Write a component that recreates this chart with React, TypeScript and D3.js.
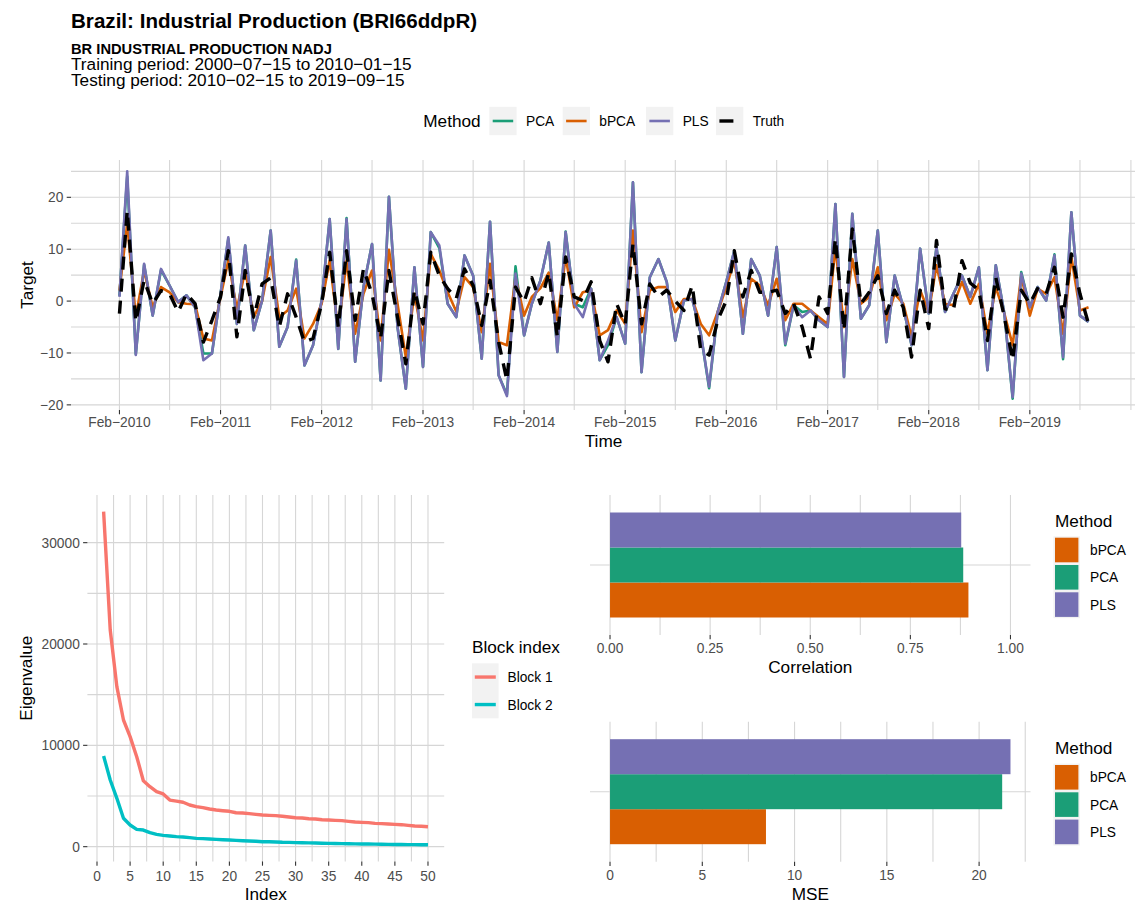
import React from "react";
import * as d3 from "d3";

const FONT = "'Liberation Sans', Arial, Helvetica, sans-serif";
const GRID = "#D6D6D6";
const AXIS_TXT = "#4D4D4D";
const TICK = "#333333";
const KEY_BG = "#F2F2F2";

// Monthly out-of-sample predictions, Feb 2010 .. Sep 2019
const pca = [
  1.0, 24.0, -10.2, 7.0, -2.8, 6.0, 3.0, -0.2, 1.1, -1.2,
  -10.1, -10.1, 1.4, 12.0, -4.4, 10.7, -5.6, 0.1, 13.6, -8.8,
  -5.0, 8.0, -12.4, -8.5, 0.1, 15.8, -9.2, 16.0, -11.7, 2.7,
  11.0, -15.3, 20.1, -5.0, -16.9, 6.5, -12.7, 13.3, 10.2, -0.5,
  -3.1, 8.8, 4.9, -11.1, 15.3, -14.3, -18.0, 6.7, -6.6, -0.5,
  4.0, 11.3, -9.8, 13.4, -0.5, -1.2, 2.4, -11.4, -8.5, -3.1,
  -8.2, 22.9, -13.7, 4.6, 8.1, 3.7, -7.6, 0.1, 0.4, -6.3,
  -16.8, -2.1, 3.7, 9.7, -6.3, 8.1, 4.9, -2.8, 10.4, -8.5,
  -0.8, -2.1, -1.8, -3.7, -5.0, 18.7, -14.6, 16.8, -3.4, -0.8,
  13.6, -7.9, 4.9, -1.2, -8.5, 10.1, -2.4, 10.4, -2.1, 1.4,
  4.9, 0.8, 6.5, -13.3, 6.9, -2.4, -18.8, 5.6, -1.2, 2.7,
  0.1, 9.0, -11.2, 17.1, -2.8, -4.0,
];
const bpca = [
  2.0, 14.9, -3.0, 5.9, -1.2, 2.7, 1.7, -0.2, -0.5, -0.6,
  -7.2, -7.6, 0.8, 7.8, -1.5, 5.9, -3.0, 0.0, 8.5, -3.1,
  -1.8, 2.4, -7.2, -4.4, -0.5, 7.8, -5.6, 7.8, -6.3, 1.4,
  5.9, -7.6, 9.9, -0.5, -10.8, 1.4, -7.6, 9.1, 5.9, 1.7,
  -2.0, 4.6, 2.7, -6.0, 7.2, -7.9, -8.5, 4.6, -2.8, 0.8,
  2.5, 5.5, -3.7, 8.5, -1.2, 1.7, 2.1, -6.6, -5.6, -1.8,
  -4.4, 13.6, -6.0, 2.1, 2.7, 2.7, -2.1, 0.4, 0.4, -4.4,
  -6.6, -2.1, 2.7, 7.8, -3.1, 4.3, 3.0, -0.8, 4.3, -3.7,
  -0.5, -0.5, -1.8, -3.1, -4.4, 10.4, -5.0, 8.1, -0.5, 0.8,
  6.5, -3.7, 1.4, -0.5, -6.9, 2.1, -2.1, 6.9, -0.5, -0.8,
  3.7, -0.5, 3.3, -6.3, 2.7, -2.4, -8.5, 4.9, -2.8, 2.4,
  1.4, 4.6, -6.3, 8.5, -1.8, -1.2,
];
const pls = [
  0.8, 25.0, -10.4, 7.2, -2.8, 6.2, 3.0, -0.2, 1.1, -1.2,
  -11.4, -10.1, 1.4, 12.3, -4.4, 10.7, -5.6, 0.1, 13.6, -8.8,
  -5.0, 7.8, -12.4, -8.5, 0.1, 15.8, -9.2, 15.8, -11.7, 2.7,
  11.0, -15.3, 20.1, -5.0, -16.9, 6.5, -12.7, 13.3, 10.7, -0.5,
  -3.1, 8.8, 4.9, -11.1, 15.3, -14.3, -18.3, 5.3, -6.6, -0.5,
  4.0, 11.3, -9.8, 13.3, -0.5, -3.1, 2.4, -11.4, -7.6, -3.1,
  -8.2, 22.9, -13.7, 4.6, 8.1, 3.7, -7.6, 0.1, 0.4, -6.3,
  -16.5, -2.1, 3.7, 9.7, -6.3, 8.1, 4.9, -2.8, 10.4, -8.2,
  -0.8, -3.1, -1.8, -3.7, -5.0, 18.7, -14.6, 16.8, -3.4, -0.8,
  13.6, -7.9, 4.9, -1.2, -8.5, 10.1, -2.4, 10.4, -2.1, 1.4,
  4.9, 0.8, 6.5, -13.3, 6.9, -2.4, -18.5, 5.3, -1.2, 2.7,
  0.1, 8.8, -10.8, 17.1, -2.8, -4.0,
];
const truth = [
  -2.4, 17.4, -4.0, 4.0, -0.5, 2.0, 1.4, -2.1, 1.4, -0.5,
  -7.9, -3.7, 0.8, 9.7, -6.9, 5.9, -3.1, 3.3, 4.5, -5.0,
  1.4, -3.1, -7.9, -7.2, -0.5, 9.4, -5.0, 9.7, -3.7, 6.2,
  1.4, -7.2, 5.9, -3.1, -12.1, 2.1, -4.4, 9.4, 4.9, 2.4,
  0.5, 6.2, 3.0, -4.7, 4.0, -7.9, -15.3, 2.7, -0.2, 4.5,
  -0.5, 5.5, -6.9, 8.5, 0.8, 0.1, 3.7, -7.6, -11.7, -0.5,
  -4.5, 11.0, -4.4, 3.3, 0.8, 2.1, 0.0, -1.8, 3.0, -9.5,
  -10.4, -3.7, 0.1, 9.7, 0.8, 5.9, 1.7, 1.7, 2.1, -2.4,
  -0.5, -5.0, -11.1, 0.8, -2.4, 12.0, -5.6, 13.9, -0.5, 1.7,
  4.9, -2.4, 2.1, -1.2, -10.8, 2.1, -5.3, 11.7, -1.5, -1.8,
  7.8, 3.5, 2.1, -7.6, 4.6, -3.1, -11.4, 2.1, -0.5, 2.4,
  1.4, 6.5, -3.1, 9.1, 1.4, -4.4,
];

// Eigenvalues of the two predictor blocks, components 1..50
const block1 = [
  33060, 21380, 15790, 12500, 10860, 8880, 6510, 5920, 5430, 5200,
  4600, 4500, 4380, 4110, 3950, 3850, 3720, 3620, 3550, 3490,
  3350, 3320, 3260, 3190, 3130, 3090, 3060, 3000, 2930, 2860,
  2830, 2760, 2730, 2660, 2630, 2600, 2570, 2500, 2430, 2400,
  2370, 2300, 2270, 2240, 2200, 2170, 2100, 2040, 2010, 1970,
];
const block2 = [
  8950, 6580, 4770, 2800, 2140, 1710, 1640, 1380, 1220, 1120,
  1050, 990, 950, 890, 820, 790, 760, 720, 690, 660,
  620, 590, 560, 530, 490, 480, 460, 430, 420, 400,
  390, 370, 360, 340, 330, 310, 300, 290, 280, 270,
  260, 250, 240, 230, 220, 210, 205, 200, 195, 190,
];

// Summary metrics per method
const metricMethods = ["bPCA", "PCA", "PLS"];
const correlation = [0.895, 0.882, 0.877];
const mse = [8.45, 21.25, 21.7];

const methodColor: Record<string, string> = {
  PCA: "#1B9E77",
  bPCA: "#D95F02",
  PLS: "#7570B3",
};
const blockColor = ["#F8766D", "#00BFC4"];

const monthDates = pls.map((_, i) => new Date(2010, 1 + i, 15));
const fmtMonth = d3.timeFormat("%b-%Y");
const minus = (s: string) => s.replace(/-/g, "\u2212");

function expand(lo: number, hi: number, f = 0.05): [number, number] {
  const r = hi - lo;
  return [lo - r * f, hi + r * f];
}

function TopChart() {
  const L = 71, R = 1137, T = 160, B = 410;
  const t0 = +monthDates[0];
  const t1 = +monthDates[monthDates.length - 1];
  const pad = (t1 - t0) * 0.05;
  const x = d3.scaleTime().domain([new Date(t0 - pad), new Date(t1 + pad)]).range([L, R]);
  const all = [...pca, ...bpca, ...pls, ...truth];
  const [ylo, yhi] = expand(d3.min(all)!, d3.max(all)!);
  const y = d3.scaleLinear().domain([ylo, yhi]).range([B, T]);

  const gridV = d3.range(0, 21)
    .map((k) => new Date(2010, 1 + 6 * k, 15))
    .filter((d) => d >= x.domain()[0] && d <= x.domain()[1]);
  const majorX = d3.range(0, 10).map((k) => new Date(2010 + k, 1, 15));
  const gridH = d3.range(-20, 26, 5).filter((v) => v >= ylo && v <= yhi);
  const majorY = [-20, -10, 0, 10, 20];

  const line = d3.line<number>()
    .x((_, i) => x(monthDates[i]))
    .y((v) => y(v));

  const series = [
    { name: "PCA", values: pca },
    { name: "bPCA", values: bpca },
    { name: "PLS", values: pls },
  ];

  return (
    <g>
      {gridH.map((v) => (
        <line key={"h" + v} x1={L} x2={R} y1={y(v)} y2={y(v)} stroke={GRID} strokeWidth={1.1} />
      ))}
      {gridV.map((d) => (
        <line key={"v" + +d} x1={x(d)} x2={x(d)} y1={T} y2={B} stroke={GRID} strokeWidth={1.1} />
      ))}
      {series.map((s) => (
        <path key={s.name} d={line(s.values)!} fill="none" stroke={methodColor[s.name]}
          strokeWidth={2.6} strokeLinejoin="round" />
      ))}
      <path d={line(truth)!} fill="none" stroke="#000" strokeWidth={3.4}
        strokeDasharray="13 9" strokeLinejoin="round" />
      {majorY.map((v) => (
        <g key={"yt" + v}>
          <line x1={L - 4.3} x2={L} y1={y(v)} y2={y(v)} stroke={TICK} strokeWidth={1.1} />
          <text x={L - 7.6} y={y(v)} dy="0.36em" textAnchor="end" fontSize={13.76} fill={AXIS_TXT}>
            {minus(String(v))}
          </text>
        </g>
      ))}
      {majorX.map((d) => (
        <g key={"xt" + +d}>
          <line x1={x(d)} x2={x(d)} y1={B} y2={B + 4.3} stroke={TICK} strokeWidth={1.1} />
          <text x={x(d)} y={427} textAnchor="middle" fontSize={13.76} fill={AXIS_TXT}>
            {minus(fmtMonth(d))}
          </text>
        </g>
      ))}
      <text x={603.5} y={446.5} textAnchor="middle" fontSize={17.2} fill="#000">Time</text>
      <text transform={`translate(33.3,${(T + B) / 2}) rotate(-90)`} textAnchor="middle"
        fontSize={17.2} fill="#000">Target</text>
    </g>
  );
}

function TopLegend() {
  const cy = 121;
  const keys = [
    { name: "PCA", kx: 489.3, lx: 526 },
    { name: "bPCA", kx: 562.7, lx: 599.3 },
    { name: "PLS", kx: 646, lx: 682.7 },
    { name: "Truth", kx: 716, lx: 752.7 },
  ];
  return (
    <g>
      <text x={423.3} y={cy} dy="0.36em" fontSize={17.2} fill="#000">Method</text>
      {keys.map((k) => (
        <g key={k.name}>
          <rect x={k.kx} y={cy - 14.2} width={27.3} height={28.4} fill={KEY_BG} />
          {k.name === "Truth" ? (
            <line x1={k.kx + 3.4} x2={k.kx + 17.4} y1={cy} y2={cy} stroke="#000" strokeWidth={3.4} />
          ) : (
            <line x1={k.kx + 3.4} x2={k.kx + 23.9} y1={cy} y2={cy} stroke={methodColor[k.name]} strokeWidth={2.6} />
          )}
          <text x={k.lx} y={cy} dy="0.36em" fontSize={13.76} fill="#000">{k.name}</text>
        </g>
      ))}
    </g>
  );
}

function EigenChart() {
  const L = 87.4, R = 444.2, T = 495, B = 861.4;
  const idx = block1.map((_, i) => i + 1);
  const [xlo, xhi] = expand(1, idx.length);
  const x = d3.scaleLinear().domain([xlo, xhi]).range([L, R]);
  const all = [...block1, ...block2];
  const [ylo, yhi] = expand(d3.min(all)!, d3.max(all)!);
  const y = d3.scaleLinear().domain([ylo, yhi]).range([B, T]);

  const gridV = d3.range(0, 55, 2.5).filter((v) => v >= xlo && v <= xhi);
  const gridH = d3.range(0, 40000, 5000).filter((v) => v >= ylo && v <= yhi);
  const majorX = d3.range(0, 51, 5);
  const majorY = [0, 10000, 20000, 30000];
  const line = d3.line<number>().x((_, i) => x(idx[i])).y((v) => y(v));
  const blocks = [block1, block2];
  const LX = 472;

  return (
    <g>
      {gridH.map((v) => (
        <line key={"h" + v} x1={L} x2={R} y1={y(v)} y2={y(v)} stroke={GRID} strokeWidth={1.1} />
      ))}
      {gridV.map((v) => (
        <line key={"v" + v} x1={x(v)} x2={x(v)} y1={T} y2={B} stroke={GRID} strokeWidth={1.1} />
      ))}
      {blocks.map((b, i) => (
        <path key={i} d={line(b)!} fill="none" stroke={blockColor[i]} strokeWidth={3.4} strokeLinejoin="round" />
      ))}
      {majorY.map((v) => (
        <g key={"yt" + v}>
          <line x1={L - 4.3} x2={L} y1={y(v)} y2={y(v)} stroke={TICK} strokeWidth={1.1} />
          <text x={L - 7.6} y={y(v)} dy="0.36em" textAnchor="end" fontSize={13.76} fill={AXIS_TXT}>{v}</text>
        </g>
      ))}
      {majorX.map((v) => (
        <g key={"xt" + v}>
          <line x1={x(v)} x2={x(v)} y1={B} y2={B + 4.3} stroke={TICK} strokeWidth={1.1} />
          <text x={x(v)} y={880.7} textAnchor="middle" fontSize={13.76} fill={AXIS_TXT}>{v}</text>
        </g>
      ))}
      <text x={(L + R) / 2} y={900} textAnchor="middle" fontSize={17.2} fill="#000">Index</text>
      <text transform={`translate(31.7,${(T + B) / 2}) rotate(-90)`} textAnchor="middle"
        fontSize={17.2} fill="#000">Eigenvalue</text>

      <text x={LX} y={653.3} fontSize={17.2} fill="#000">Block index</text>
      <rect x={LX} y={663.3} width={26.6} height={55} fill={KEY_BG} />
      {["Block 1", "Block 2"].map((name, i) => {
        const cy = 677.05 + i * 27.5;
        return (
          <g key={name}>
            <line x1={LX + 2.8} x2={LX + 23.8} y1={cy} y2={cy} stroke={blockColor[i]} strokeWidth={3.4} />
            <text x={LX + 35.5} y={cy} dy="0.36em" fontSize={13.76} fill="#000">{name}</text>
          </g>
        );
      })}
    </g>
  );
}

function BarChart(props: {
  values: number[];
  top: number;
  title: string;
  ticks: number[];
  fmt: (v: number) => string;
  grid: number[];
  fixedMax?: number;
  labelY: number;
  titleY: number;
  legendTitleY: number;
}) {
  const { values, top, title, ticks, fmt, grid, fixedMax, labelY, titleY, legendTitleY } = props;
  const L = 590, R = 1030.5;
  const T = top, B = top + 140;
  const hi = fixedMax ?? d3.max(values)!;
  const [xlo, xhi] = expand(0, hi);
  const x = d3.scaleLinear().domain([xlo, xhi]).range([L, R]);
  // one category, dodged bars; first level sits at the bottom
  const yCat = d3.scaleLinear().domain([0.4, 1.6]).range([B, T]);
  const band = d3.scaleBand<string>().domain([...metricMethods].reverse())
    .range([yCat(1.45), yCat(0.55)]);
  const gridV = grid.filter((v) => v >= xlo && v <= xhi);
  const LGX = 1055;

  return (
    <g>
      <line x1={L} x2={R} y1={yCat(1)} y2={yCat(1)} stroke={GRID} strokeWidth={1.1} />
      {gridV.map((v) => (
        <line key={"v" + v} x1={x(v)} x2={x(v)} y1={T} y2={B} stroke={GRID} strokeWidth={1.1} />
      ))}
      {metricMethods.map((m, i) => (
        <rect key={m} x={x(0)} y={band(m)!} width={x(values[i]) - x(0)} height={band.bandwidth()}
          fill={methodColor[m]} />
      ))}
      {ticks.map((v) => (
        <g key={"xt" + v}>
          <line x1={x(v)} x2={x(v)} y1={B} y2={B + 4.3} stroke={TICK} strokeWidth={1.1} />
          <text x={x(v)} y={labelY} textAnchor="middle" fontSize={13.76} fill={AXIS_TXT}>{fmt(v)}</text>
        </g>
      ))}
      <text x={(L + R) / 2} y={titleY} textAnchor="middle" fontSize={17.2} fill="#000">{title}</text>

      <text x={LGX} y={legendTitleY} fontSize={17.2} fill="#000">Method</text>
      {metricMethods.map((m, i) => {
        const ky = legendTitleY + 9.6 + i * 27.3;
        return (
          <g key={"lg" + m}>
            <rect x={LGX - 1.6} y={ky} width={26.6} height={27.3} fill={KEY_BG} />
            <rect x={LGX} y={ky + 1.4} width={23.4} height={24.6} fill={methodColor[m]} />
            <text x={LGX + 35} y={ky + 13.65} dy="0.36em" fontSize={13.76} fill="#000">{m}</text>
          </g>
        );
      })}
    </g>
  );
}

export default function App() {
  return (
    <div style={{ position: "absolute", left: 0, top: 0 }}>
      <svg width={1135} height={905} style={{ display: "block", background: "#fff" }} fontFamily={FONT}>
        <text x={71} y={27.5} fontSize={20.6} fontWeight="bold" fill="#000">
          Brazil: Industrial Production (BRI66ddpR)
        </text>
        <text x={71} y={54} fontSize={14.7} fontWeight="bold" fill="#000">
          BR INDUSTRIAL PRODUCTION NADJ
        </text>
        <text x={71} y={70.2} fontSize={17.2} fill="#000">
          {"Training period: 2000\u221207\u221215 to 2010\u221201\u221215"}
        </text>
        <text x={71} y={86.2} fontSize={17.2} fill="#000">
          {"Testing period: 2010\u221202\u221215 to 2019\u221209\u221215"}
        </text>
        <TopLegend />
        <TopChart />
        <EigenChart />
        <BarChart values={correlation} top={495} title="Correlation"
          ticks={[0, 0.25, 0.5, 0.75, 1]} fmt={(v) => v.toFixed(2)}
          grid={d3.range(-0.125, 1.2, 0.125).map((v) => +v.toFixed(3))} fixedMax={1}
          labelY={653.3} titleY={673} legendTitleY={526.7} />
        <BarChart values={mse} top={721.7} title="MSE"
          ticks={[0, 5, 10, 15, 20]} fmt={(v) => String(v)}
          grid={d3.range(0, 25, 2.5)}
          labelY={880} titleY={900} legendTitleY={754} />
      </svg>
    </div>
  );
}
